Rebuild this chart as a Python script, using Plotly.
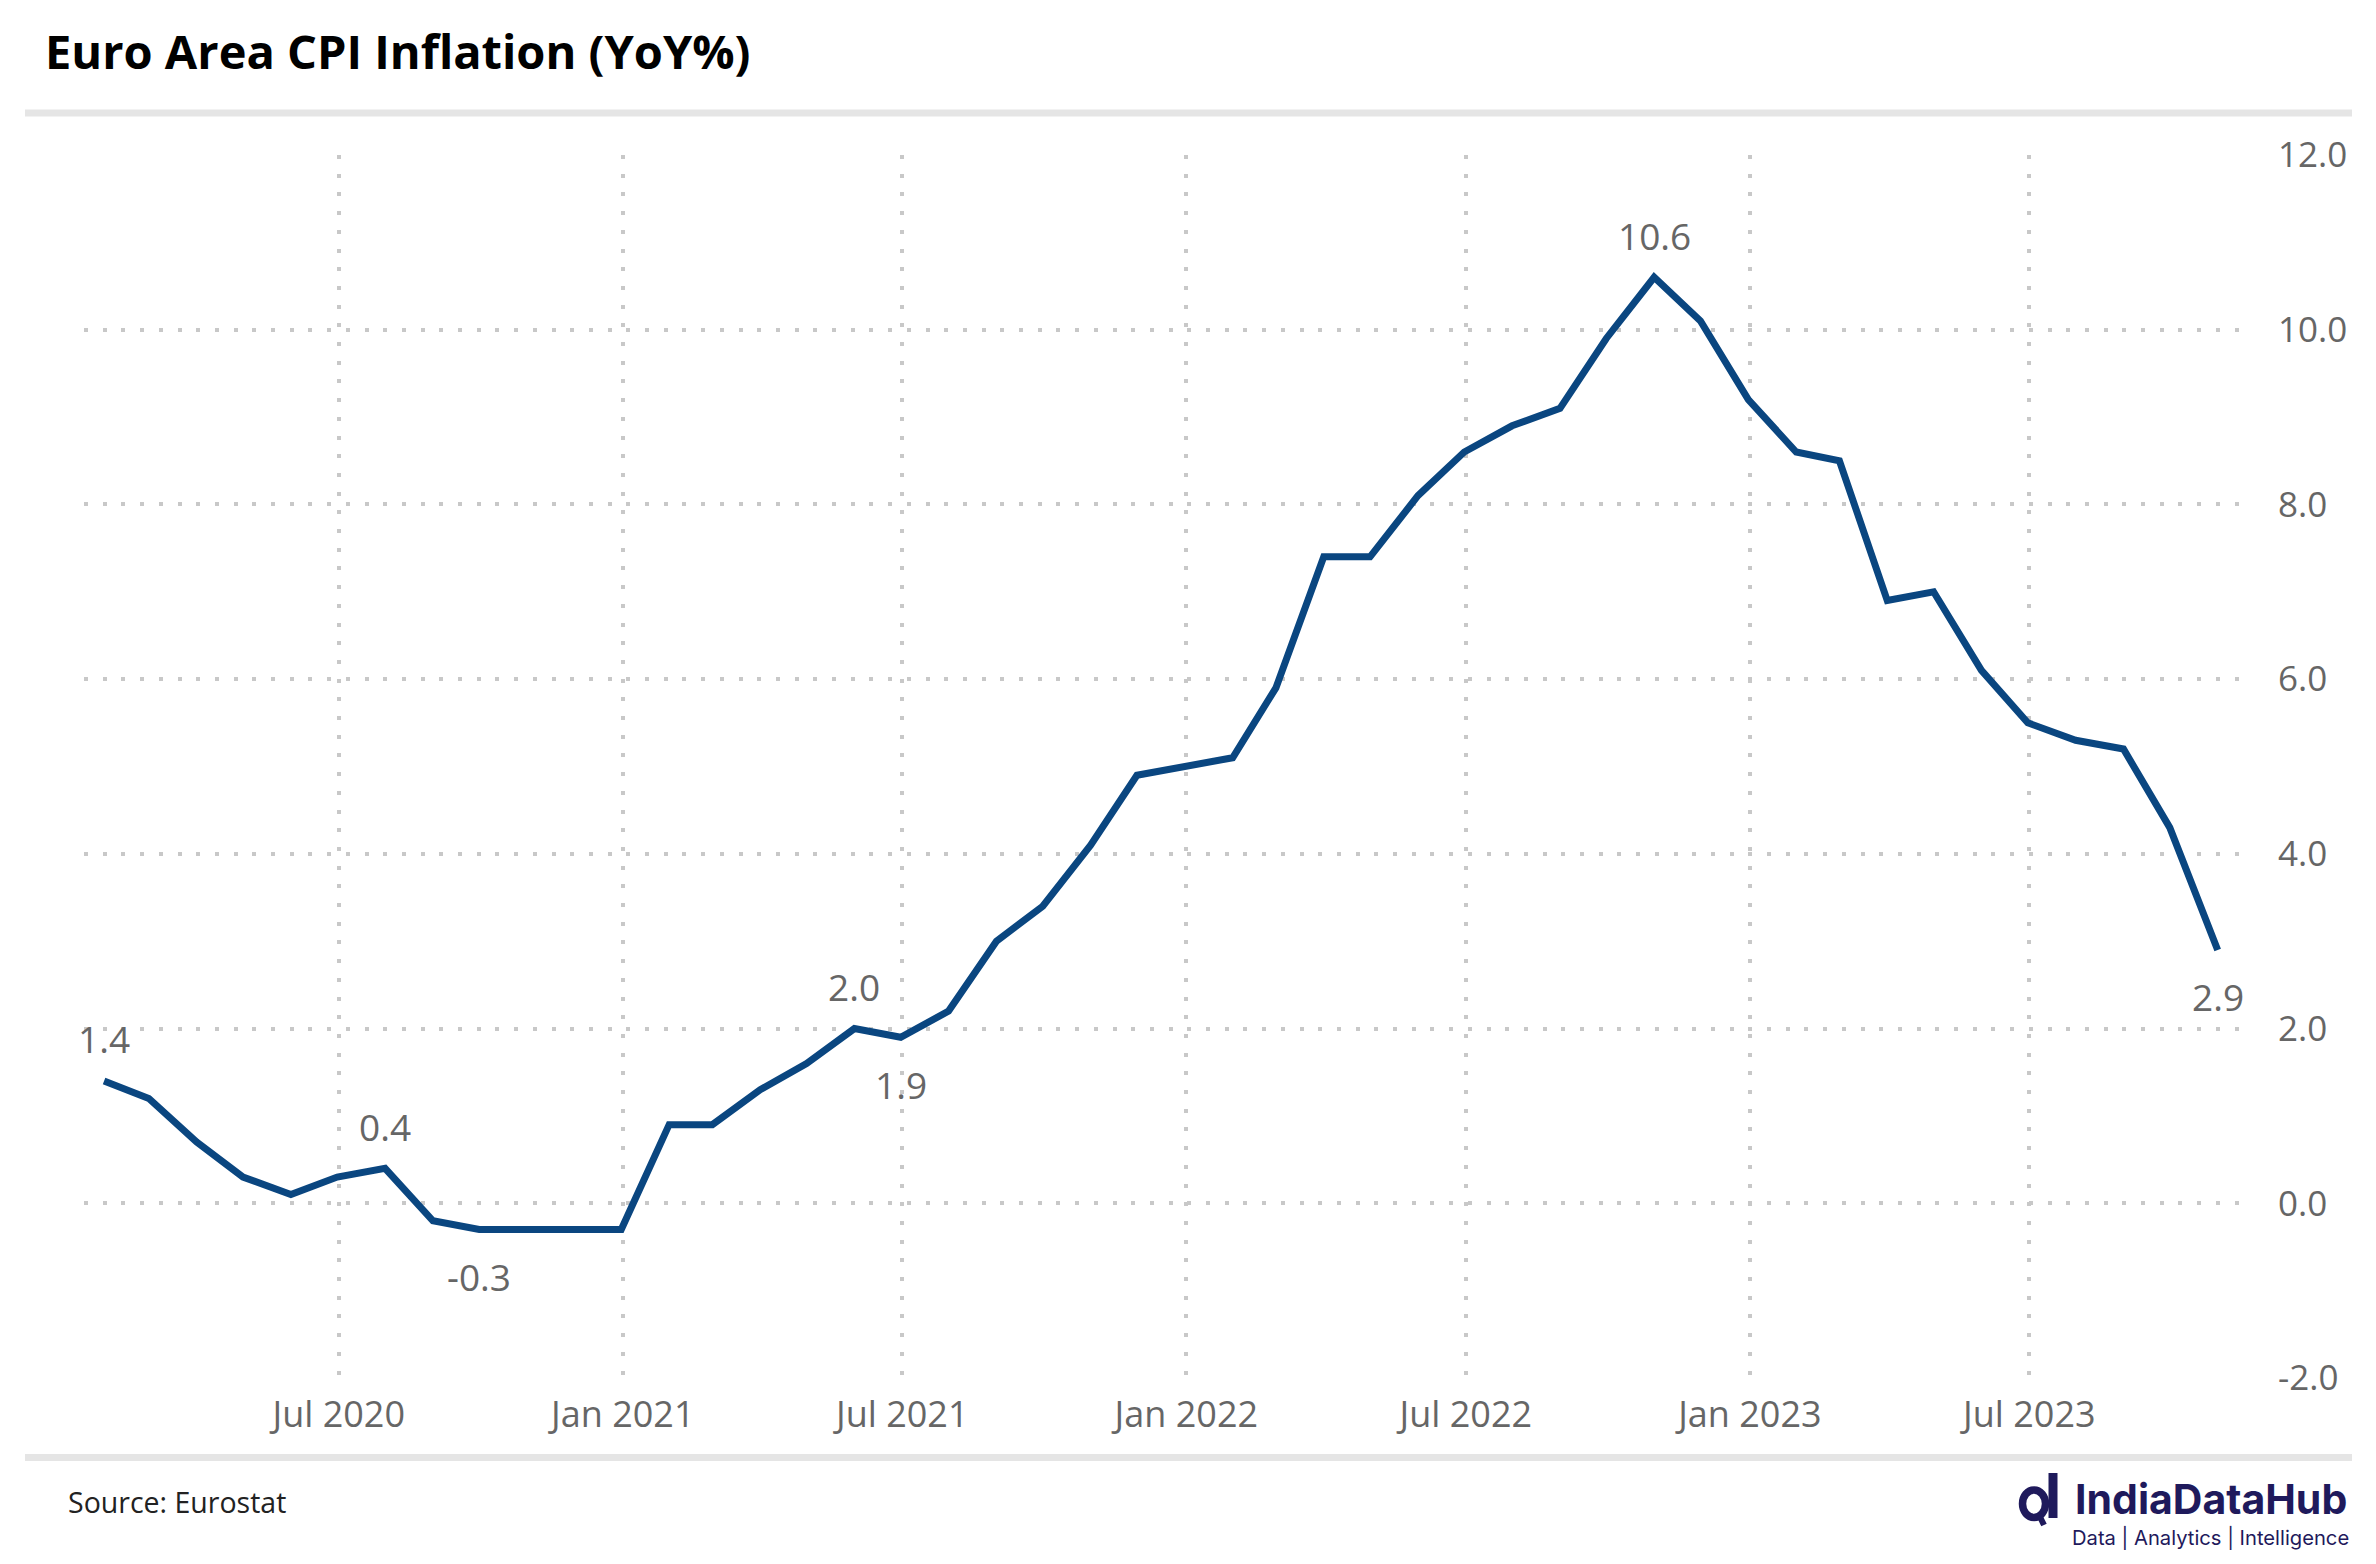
import pandas as pd
import plotly.graph_objects as go

# ---------------- data ----------------
months = pd.date_range("2020-01-31", periods=46, freq="ME")  # month-end dates Jan 2020 .. Oct 2023
cpi_yoy = [
    1.4, 1.2, 0.7, 0.3, 0.1, 0.3, 0.4, -0.2, -0.3, -0.3, -0.3, -0.3,   # 2020
    0.9, 0.9, 1.3, 1.6, 2.0, 1.9, 2.2, 3.0, 3.4, 4.1, 4.9, 5.0,        # 2021
    5.1, 5.9, 7.4, 7.4, 8.1, 8.6, 8.9, 9.1, 9.9, 10.6, 10.1, 9.2,      # 2022
    8.6, 8.5, 6.9, 7.0, 6.1, 5.5, 5.3, 5.2, 4.3, 2.9,                  # 2023
]
label_idx = [0, 6, 8, 16, 17, 33, 45]
label_side = ["above", "above", "below", "above", "below", "above", "below"]
y_ticks = [-2, 0, 2, 4, 6, 8, 10, 12]
y_ticktext = [f"{v:.1f}" for v in y_ticks]  # plain hyphen for negatives

title_text = "Euro Area CPI Inflation (YoY%)"
source_text = "Source: Eurostat"

# ---------------- geometry (page pixels) ----------------
PAGE_W, PAGE_H = 2376, 1564
OFF = 8                                  # default body margin of the html page
W, H = PAGE_W - 2 * OFF, PAGE_H - 2 * OFF
L, R, T, B = 84, 2247, 155, 1378          # plot area in page pixels
PW, PH = R - L, B - T


def px(x):
    return (x - L) / PW


def py(y):
    return (B - y) / PH


LINE = "#0a4680"
GRID = "#c8c8c8"
TXT = "#666666"
NAVY = "#1f1a5c"
FONT = "Open Sans"

fig = go.Figure()
fig.add_trace(go.Scatter(
    x=months, y=cpi_yoy, mode="lines",
    line=dict(color=LINE, width=7),
    hoverinfo="skip", showlegend=False,
))

annotations = []
for i, side in zip(label_idx, label_side):
    annotations.append(dict(
        x=months[i], y=cpi_yoy[i], xref="x", yref="y",
        text=f"{cpi_yoy[i]:.1f}", showarrow=False,
        yshift=42 if side == "above" else -47,
        font=dict(family=FONT, size=37, color=TXT),
        xanchor="center", yanchor="middle",
    ))

# title
annotations.append(dict(
    x=px(42.5), y=py(51), xref="paper", yref="paper",
    text=f"<b>{title_text}</b>", showarrow=False,
    xanchor="left", yanchor="middle",
    font=dict(family=FONT, size=47, color="#000000"),
))
# source
annotations.append(dict(
    x=px(66), y=py(1502), xref="paper", yref="paper",
    text=source_text, showarrow=False,
    xanchor="left", yanchor="middle",
    font=dict(family=FONT, size=28.5, color="#222222"),
))
# logo text
annotations.append(dict(
    x=px(2073), y=py(1499), xref="paper", yref="paper",
    text="<b>IndiaDataHub</b>", showarrow=False,
    xanchor="left", yanchor="middle",
    font=dict(family="Inter", size=41, color=NAVY),
))
annotations.append(dict(
    x=px(2070), y=py(1537), xref="paper", yref="paper",
    text="Data | Analytics | Intelligence", showarrow=False,
    xanchor="left", yanchor="middle",
    font=dict(family="Inter", size=20.2, color=NAVY),
))

shapes = [
    # separators
    dict(type="line", xref="paper", yref="paper", x0=px(25), x1=px(2352), y0=py(113), y1=py(113),
         line=dict(color="#e5e5e5", width=7)),
    dict(type="line", xref="paper", yref="paper", x0=px(25), x1=px(2352), y0=py(1457.5), y1=py(1457.5),
         line=dict(color="#e5e5e5", width=7)),
    # logo icon
    dict(type="circle", xref="paper", yref="paper", x0=px(2022.5), x1=px(2045.5), y0=py(1517.5), y1=py(1490),
         line=dict(color=NAVY, width=7.5)),
    dict(type="line", xref="paper", yref="paper", x0=px(2053), x1=px(2053), y0=py(1473), y1=py(1518),
         line=dict(color=NAVY, width=9)),
    dict(type="line", xref="paper", yref="paper", x0=px(2039), x1=px(2044), y0=py(1515), y1=py(1525),
         line=dict(color=NAVY, width=6)),
]

fig.update_layout(
    width=W, height=H,
    margin=dict(l=L - OFF, r=W - (R - OFF), t=T - OFF, b=H - (B - OFF), autoexpand=False),
    paper_bgcolor="white", plot_bgcolor="white",
    annotations=annotations, shapes=shapes,
    showlegend=False,
)
fig.update_xaxes(
    range=["2020-01-18", "2023-11-19"],
    tick0="2020-01-01", dtick="M6", tickformat="%b %Y",
    showgrid=True, gridcolor=GRID, gridwidth=4, griddash="4px,14.7px",
    showline=False, zeroline=False,
    ticks="outside", ticklen=5, tickcolor="rgba(0,0,0,0)",
    tickfont=dict(family=FONT, size=36, color=TXT),
)
fig.update_yaxes(
    side="right", range=[-2, 12], tickvals=y_ticks, ticktext=y_ticktext,
    showgrid=True, gridcolor=GRID, gridwidth=4, griddash="4px,14.7px",
    showline=False, zeroline=False,
    ticks="outside", ticklen=23, tickcolor="rgba(0,0,0,0)",
    tickfont=dict(family=FONT, size=35, color=TXT),
)

fig.write_html("out.html")
